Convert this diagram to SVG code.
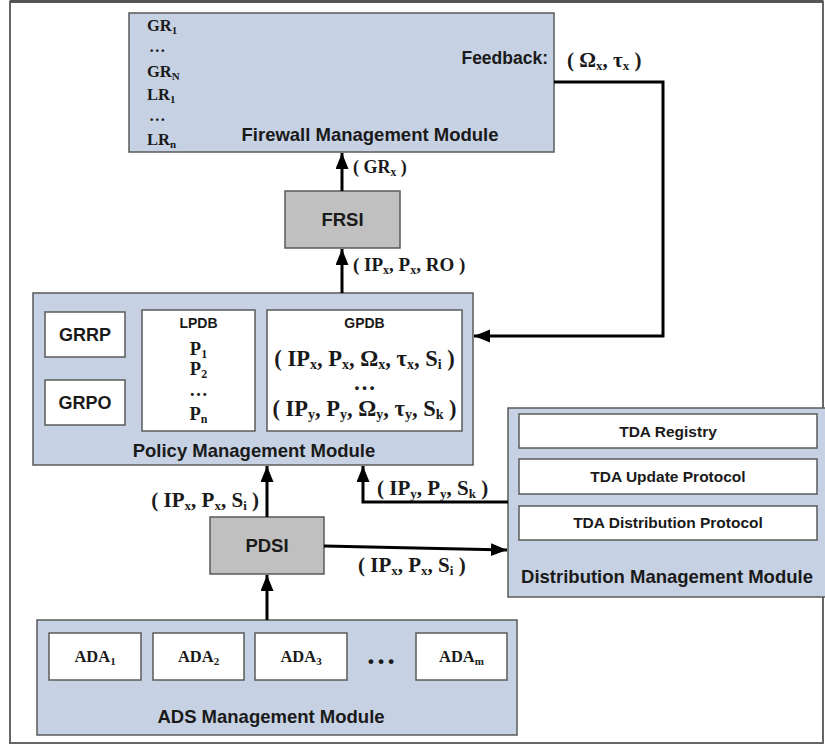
<svg xmlns="http://www.w3.org/2000/svg" width="825" height="745" viewBox="0 0 825 745">
<defs>
<marker id="ah" markerUnits="userSpaceOnUse" markerWidth="18" markerHeight="14" refX="16" refY="6.5" orient="auto">
<path d="M0,0 L16,6.5 L0,13 z" fill="#000"/>
</marker>
<style>
.mod{fill:#c6d1e3;stroke:#5a5a5a;stroke-width:1.5}
.box{fill:#fff;stroke:#5a5a5a;stroke-width:1.5}
.gbox{fill:#c0c0c0;stroke:#5a5a5a;stroke-width:1.5}
.sans{font-family:"Liberation Sans",Arial,sans-serif;font-weight:bold;fill:#1a1a1a}
.ser{font-family:"Liberation Serif","Times New Roman",serif;font-weight:bold;fill:#1a1a1a}
.lab{font-size:18.5px;text-anchor:middle}
.con{fill:none;stroke:#000;stroke-width:3}
</style>
</defs>
<rect x="10" y="1.5" width="813" height="741.5" fill="#fff" stroke="#666" stroke-width="2"/>
<line x1="10" y1="1.5" x2="823" y2="1.5" stroke="#555" stroke-width="3"/>

<g id="firewall">
<rect class="mod" x="129" y="13" width="425" height="139"/>
<text class="ser" font-size="16.5" x="147" y="31">GR<tspan font-size="11" dy="3">1</tspan></text>
<text class="ser" font-size="16.5" x="149" y="52">…</text>
<text class="ser" font-size="16.5" x="147" y="77">GR<tspan font-size="11" dy="3">N</tspan></text>
<text class="ser" font-size="16.5" x="147" y="100">LR<tspan font-size="11" dy="3">1</tspan></text>
<text class="ser" font-size="16.5" x="149" y="121">…</text>
<text class="ser" font-size="16.5" x="147" y="145">LR<tspan font-size="11" dy="3">n</tspan></text>
<text class="sans lab" x="370" y="141">Firewall Management Module</text>
<text class="sans" font-size="17.5" x="548" y="64" text-anchor="end">Feedback:</text>
</g>

<g id="frsi">
<rect class="gbox" x="285" y="191" width="115" height="57"/>
<text class="sans lab" x="342.5" y="226">FRSI</text>
</g>

<g id="policy">
<rect class="mod" x="33" y="293" width="440" height="172"/>
<rect class="box" x="45" y="312" width="80" height="45"/>
<text class="sans" font-size="18" x="85" y="341" text-anchor="middle">GRRP</text>
<rect class="box" x="45" y="380" width="80" height="45"/>
<text class="sans" font-size="18" x="85" y="409" text-anchor="middle">GRPO</text>
<rect class="box" x="142" y="310" width="113" height="121"/>
<text class="sans" font-size="14" x="198.5" y="328" text-anchor="middle">LPDB</text>
<text class="ser" font-size="18.5" x="198.5" y="355" text-anchor="middle">P<tspan font-size="12" dy="3">1</tspan></text>
<text class="ser" font-size="18.5" x="198.5" y="375" text-anchor="middle">P<tspan font-size="12" dy="3">2</tspan></text>
<text class="ser" font-size="18.5" x="198.5" y="396" text-anchor="middle">…</text>
<text class="ser" font-size="18.5" x="198.5" y="420" text-anchor="middle">P<tspan font-size="12" dy="3">n</tspan></text>
<rect class="box" x="267" y="310" width="195" height="121"/>
<text class="sans" font-size="14" x="364.5" y="328" text-anchor="middle">GPDB</text>
<text class="ser" font-size="22.5" x="364.5" y="366" text-anchor="middle">( IP<tspan font-size="14" dy="3">x</tspan><tspan dy="-3">, P</tspan><tspan font-size="14" dy="3">x</tspan><tspan dy="-3">, Ω</tspan><tspan font-size="14" dy="3">x</tspan><tspan dy="-3">, τ</tspan><tspan font-size="14" dy="3">x</tspan><tspan dy="-3">, S</tspan><tspan font-size="14" dy="3">i</tspan><tspan dy="-3"> )</tspan></text>
<text class="ser" font-size="22.5" x="364.5" y="390" text-anchor="middle">…</text>
<text class="ser" font-size="22.5" x="364.5" y="416" text-anchor="middle">( IP<tspan font-size="14" dy="3">y</tspan><tspan dy="-3">, P</tspan><tspan font-size="14" dy="3">y</tspan><tspan dy="-3">, Ω</tspan><tspan font-size="14" dy="3">y</tspan><tspan dy="-3">, τ</tspan><tspan font-size="14" dy="3">y</tspan><tspan dy="-3">, S</tspan><tspan font-size="14" dy="3">k</tspan><tspan dy="-3"> )</tspan></text>
<text class="sans lab" x="254" y="457">Policy Management Module</text>
</g>

<g id="pdsi">
<rect class="gbox" x="210" y="517" width="114" height="57"/>
<text class="sans lab" x="267" y="552">PDSI</text>
</g>

<g id="distribution">
<rect class="mod" x="508" y="408" width="330" height="189"/>
<rect class="box" x="519" y="414" width="298" height="34"/>
<text class="sans" font-size="15.5" x="668" y="437" text-anchor="middle">TDA Registry</text>
<rect class="box" x="519" y="459" width="298" height="35"/>
<text class="sans" font-size="15.5" x="668" y="482" text-anchor="middle">TDA Update Protocol</text>
<rect class="box" x="519" y="506" width="298" height="34"/>
<text class="sans" font-size="15.5" x="668" y="528" text-anchor="middle">TDA Distribution Protocol</text>
<text class="sans lab" x="667" y="583">Distribution Management Module</text>
</g>

<g id="ads">
<rect class="mod" x="37" y="620" width="480" height="115"/>
<rect class="box" x="49" y="633" width="92" height="47"/>
<text class="ser" font-size="16.5" x="95" y="662" text-anchor="middle">ADA<tspan font-size="11" dy="3">1</tspan></text>
<rect class="box" x="153" y="633" width="91" height="47"/>
<text class="ser" font-size="16.5" x="198.5" y="662" text-anchor="middle">ADA<tspan font-size="11" dy="3">2</tspan></text>
<rect class="box" x="255" y="633" width="92" height="47"/>
<text class="ser" font-size="16.5" x="301" y="662" text-anchor="middle">ADA<tspan font-size="11" dy="3">3</tspan></text>
<text class="ser" font-size="30" x="381" y="664" text-anchor="middle">…</text>
<rect class="box" x="416" y="633" width="91" height="47"/>
<text class="ser" font-size="16.5" x="461.5" y="662" text-anchor="middle">ADA<tspan font-size="11" dy="3">m</tspan></text>
<text class="sans lab" x="271" y="723">ADS Management Module</text>
</g>

<g id="connectors">
<line class="con" x1="342" y1="191" x2="342" y2="153" marker-end="url(#ah)"/>
<line class="con" x1="342" y1="293" x2="342" y2="249" marker-end="url(#ah)"/>
<polyline class="con" points="554,82 663,82 663,336 474,336" marker-end="url(#ah)"/>
<line class="con" x1="267" y1="517" x2="267" y2="466" marker-end="url(#ah)"/>
<line class="con" x1="267" y1="620" x2="267" y2="575" marker-end="url(#ah)"/>
<polyline class="con" points="508,502 363,502 363,466" marker-end="url(#ah)"/>
<line class="con" x1="324" y1="546" x2="507" y2="550" marker-end="url(#ah)"/>
<text class="ser" font-size="21" x="567" y="67">( Ω<tspan font-size="13" dy="3">x</tspan><tspan dy="-3">, τ</tspan><tspan font-size="13" dy="3">x</tspan><tspan dy="-3"> )</tspan></text>
<text class="ser" font-size="18" x="353" y="173">( GR<tspan font-size="11.5" dy="3">x</tspan><tspan dy="-3"> )</tspan></text>
<text class="ser" font-size="19" x="353" y="271">( IP<tspan font-size="12" dy="3">x</tspan><tspan dy="-3">, P</tspan><tspan font-size="12" dy="3">x</tspan><tspan dy="-3">, RO )</tspan></text>
<text class="ser" font-size="21" x="259" y="507" text-anchor="end">( IP<tspan font-size="13" dy="3">x</tspan><tspan dy="-3">, P</tspan><tspan font-size="13" dy="3">x</tspan><tspan dy="-3">, S</tspan><tspan font-size="13" dy="3">i</tspan><tspan dy="-3"> )</tspan></text>
<text class="ser" font-size="21" x="377" y="495">( IP<tspan font-size="13" dy="3">y</tspan><tspan dy="-3">, P</tspan><tspan font-size="13" dy="3">y</tspan><tspan dy="-3">, S</tspan><tspan font-size="13" dy="3">k</tspan><tspan dy="-3"> )</tspan></text>
<text class="ser" font-size="21" x="358" y="572">( IP<tspan font-size="13" dy="3">x</tspan><tspan dy="-3">, P</tspan><tspan font-size="13" dy="3">x</tspan><tspan dy="-3">, S</tspan><tspan font-size="13" dy="3">i</tspan><tspan dy="-3"> )</tspan></text>
</g>
</svg>
